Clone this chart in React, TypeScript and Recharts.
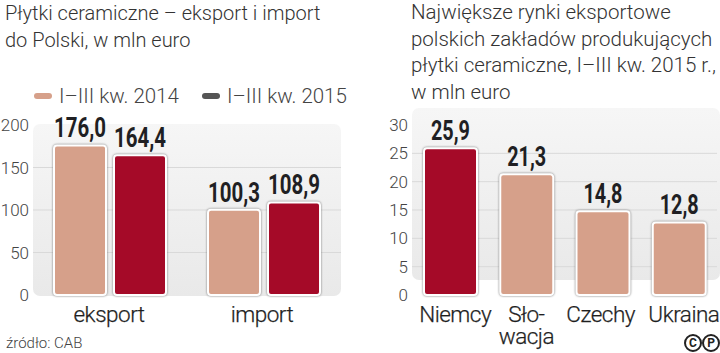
import { BarChart, Bar, Cell, XAxis, YAxis, CartesianGrid, LabelList } from "recharts";

const years = ["I–III kw. 2014", "I–III kw. 2015"];
const tradeCategories = ["eksport", "import"];
const values2014 = [176.0, 100.3];
const values2015 = [164.4, 108.9];
const tradeTicks = [0, 50, 100, 150, 200];
const tradeGrid = [50, 100, 150];

const marketCategories = ["Niemcy", "Sło-\nwacja", "Czechy", "Ukraina"];
const marketValues = [25.9, 21.3, 14.8, 12.8];
const marketColors = ["#a50a28", "#d6a08a", "#d6a08a", "#d6a08a"];
const marketTicks = [0, 5, 10, 15, 20, 25, 30];
const marketGrid = [5, 10, 15, 20, 25];

const SALMON = "#d6a08a";
const RED = "#a50a28";
const LIGHT = "Roboto, sans-serif";
const barStyle = { filter: "drop-shadow(0 0 1px #777)" };

const fmt = (v: any) => Number(v).toFixed(1).replace(".", ",");

// category names are not quite centred under the bars in the original
function CategoryTick({ x, y, payload, index, nudge }: any) {
  const lines = String(payload.value).split("\n");
  const tx = x + (nudge ? nudge[index] : 0);
  return (
    <text x={tx} y={y} textAnchor="middle" fontFamily={LIGHT} fontWeight={300} fontSize={22.5} letterSpacing={-0.5} fill="#1f1f1f" stroke="#1f1f1f" strokeWidth={0.25}>
      {lines.map((l, i) => (
        <tspan key={i} x={tx} y={y + 25 + i * 22}>{l}</tspan>
      ))}
    </text>
  );
}

// the original uses a condensed bold face, so squeeze Roboto to 13px a digit
function ValueLabel({ x, y, width, value }: any) {
  const text = fmt(value);
  return (
    <text
      x={x + width / 2}
      y={y - 8}
      textAnchor="middle"
      fontFamily={LIGHT}
      fontWeight={700}
      fontSize={27}
      fill="#1f1f23"
      textLength={(text.length - 1) * 13}
      lengthAdjust="spacingAndGlyphs"
    >
      {text}
    </text>
  );
}

const yTick = { fontFamily: LIGHT, fontWeight: 300, fontSize: 17, fill: "#444" };

const title: React.CSSProperties = {
  position: "absolute",
  fontFamily: LIGHT,
  fontWeight: 300,
  fontSize: 20,
  lineHeight: "26.6px",
  color: "#333",
  whiteSpace: "nowrap",
};

const panel: React.CSSProperties = {
  position: "absolute",
  background: "linear-gradient(#f6f6f6, #e9e9e9)",
  borderRadius: 7,
};

export default function App() {
  const tradeData = tradeCategories.map((name, i) => ({ name, a: values2014[i], b: values2015[i] }));
  const marketData = marketCategories.map((name, i) => ({ name, v: marketValues[i] }));

  return (
    <div style={{ position: "absolute", left: 0, top: 0, width: 720, height: 353, background: "#fff", overflow: "hidden" }}>
      <div style={{ ...title, left: 5, top: 0 }}>
        Płytki ceramiczne – eksport i import<br />do Polski, w mln euro
      </div>
      <div style={{ ...title, left: 411, top: -1, fontSize: 20.5 }}>
        Największe rynki eksportowe<br />polskich zakładów produkujących<br />płytki ceramiczne, I–III kw. 2015 r.,<br />w mln euro
      </div>

      {years.map((y, i) => (
        <div key={y} style={{ position: "absolute", left: i === 0 ? 34 : 202, top: 83, height: 26, display: "flex", alignItems: "center", fontFamily: LIGHT, fontWeight: 300, fontSize: 20.5, color: "#444", whiteSpace: "nowrap" }}>
          <span style={{ width: 18, height: 6, borderRadius: 3, marginRight: 7, background: i === 0 ? SALMON : "#555" }} />
          {y}
        </div>
      ))}

      <div style={{ ...panel, left: 33, top: 124, width: 308, height: 172 }} />
      <div style={{ ...panel, left: 412, top: 108, width: 308, height: 172 }} />

      <div style={{ position: "absolute", left: 0, top: 0 }}>
        <BarChart width={360} height={353} data={tradeData} barSize={52} barGap={8} margin={{ left: 0, right: 19, top: 125, bottom: 0 }}>
          <CartesianGrid vertical={false} stroke="#d9d9d9" horizontalValues={tradeGrid} />
          <XAxis dataKey="name" axisLine={false} tickLine={false} tickSize={0} height={58} tick={<CategoryTick nudge={[-1, -2]} />} interval={0} />
          <YAxis width={33} domain={[0, 200]} ticks={tradeTicks} axisLine={false} tickLine={false} tickSize={0} tickMargin={4} tick={yTick} />
          <Bar dataKey="a" fill={SALMON} stroke="#fff" strokeWidth={2} radius={3} style={barStyle} isAnimationActive={false}>
            <LabelList dataKey="a" content={<ValueLabel />} />
          </Bar>
          <Bar dataKey="b" fill={RED} stroke="#fff" strokeWidth={2} radius={3} style={barStyle} isAnimationActive={false}>
            <LabelList dataKey="b" content={<ValueLabel />} />
          </Bar>
        </BarChart>
      </div>

      <div style={{ position: "absolute", left: 360, top: 0 }}>
        <BarChart width={360} height={353} data={marketData} barSize={53} margin={{ left: 0, right: 3, top: 125, bottom: 0 }}>
          <CartesianGrid vertical={false} stroke="#d9d9d9" horizontalValues={marketGrid} />
          <XAxis dataKey="name" axisLine={false} tickLine={false} tickSize={0} height={58} tick={<CategoryTick nudge={[5, 0, -2, 5]} />} interval={0} />
          <YAxis width={52} domain={[0, 30]} ticks={marketTicks} axisLine={false} tickLine={false} tickSize={0} tickMargin={4} tick={yTick} />
          <Bar dataKey="v" stroke="#fff" strokeWidth={2} radius={3} style={barStyle} isAnimationActive={false}>
            {marketData.map((_, i) => (
              <Cell key={i} fill={marketColors[i]} />
            ))}
            <LabelList dataKey="v" content={<ValueLabel />} />
          </Bar>
        </BarChart>
      </div>

      <div style={{ position: "absolute", left: 6, top: 334, fontFamily: LIGHT, fontWeight: 300, fontSize: 15, color: "#444" }}>źródło: CAB</div>
      <div style={{ position: "absolute", left: 684, top: 334, display: "flex", fontFamily: LIGHT, fontWeight: 700, fontSize: 12, color: "#222" }}>
        {["C", "P"].map((c) => (
          <span key={c} style={{ width: 14, height: 14, border: "2px solid #222", borderRadius: "50%", textAlign: "center", lineHeight: "14px" }}>{c}</span>
        ))}
      </div>
    </div>
  );
}
